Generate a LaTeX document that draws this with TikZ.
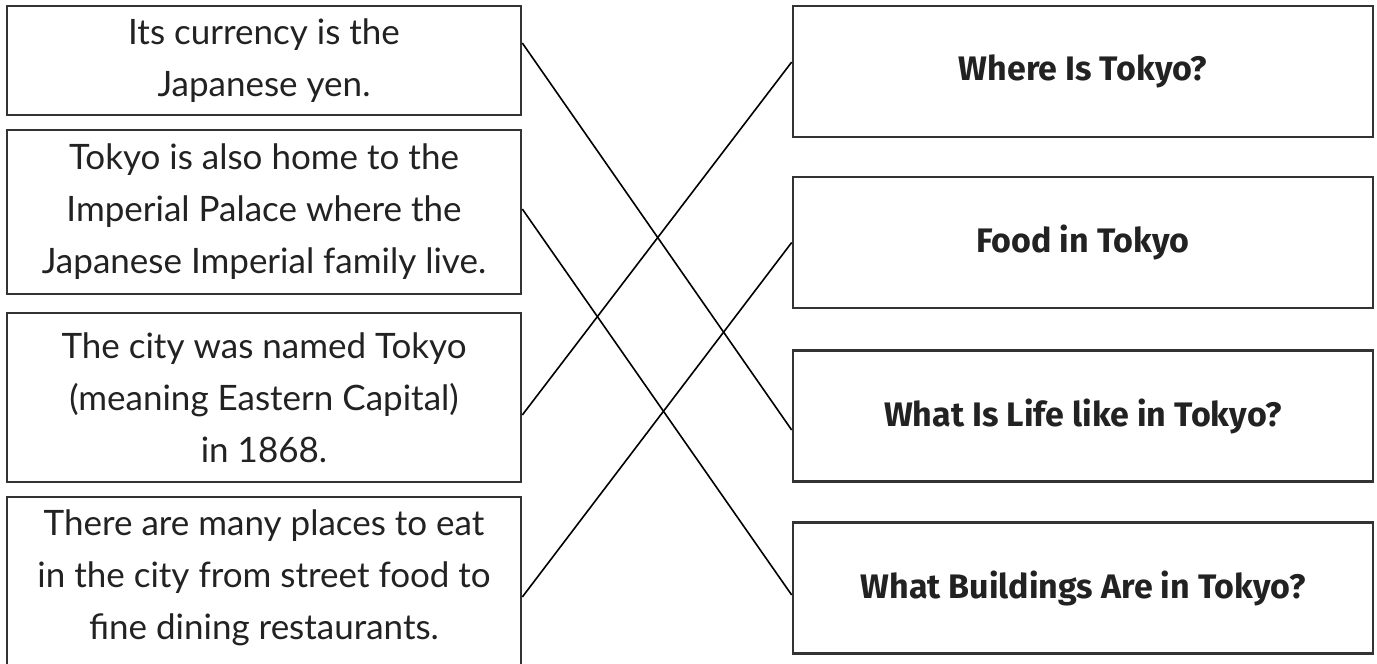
\documentclass[tikz,border=0pt]{standalone}
\usepackage{fontspec}
\setmainfont{Lato}
\newfontfamily\headfont{Fira Sans}
\definecolor{ink}{HTML}{222222}
\definecolor{frame}{HTML}{333333}
\begin{document}
\begin{tikzpicture}[x=1pt,y=-1pt,
  lbox/.style={draw=frame, line width=2.6pt, minimum width=514pt, align=center, text=ink,
    font=\fontsize{35}{52}\selectfont, inner sep=0pt},
  rbox/.style={draw=frame, line width=2.6pt, minimum width=580pt, minimum height=131pt, align=center, text=ink,
    font=\headfont\bfseries\fontsize{34}{40}\selectfont, inner sep=0pt},
  link/.style={draw=black, line width=1.6pt}]
\useasboundingbox[fill=white] (0,0) rectangle (1377,664);
% left boxes
\node[lbox, minimum height=109pt] (l1) at (264,60.5) {Its currency is the\\Japanese yen.};
\node[lbox, minimum height=164pt] (l2) at (264,212) {Tokyo is also home to the\\Imperial Palace where the\\Japanese Imperial family live.};
\node[lbox, minimum height=169pt] (l3) at (264,397.5) {The city was named Tokyo\\(meaning Eastern Capital)\\in 1868.};
\node[lbox, draw=none, outer sep=0pt, minimum height=162pt] (l4) at (264,578) {There are many places to eat\\in the city from street food to\\fine dining restaurants.};
\draw[draw=frame, line width=2.6pt] (l4.north west) rectangle ([yshift=-20pt]l4.south east);
% right boxes
\node[rbox] (r1) at (1083,71.5) {Where Is Tokyo?};
\node[rbox] (r2) at (1083,242.5) {Food in Tokyo};
\node[rbox] (r3) at (1083,416) {What Is Life like in Tokyo?};
\node[rbox] (r4) at (1083,588) {What Buildings Are in Tokyo?};
% connectors
\draw[link] ([yshift=17.5pt]l1.east) -- ([yshift=-14pt]r3.west);
\draw[link] ([yshift=3pt]l2.east) -- ([yshift=-7pt]r4.west);
\draw[link] ([yshift=-17.5pt]l3.east) -- ([yshift=9.5pt]r1.west);
\draw[link] ([xshift=1.3pt,yshift=-19pt]l4.east) -- (r2.west);
\end{tikzpicture}
\end{document}
